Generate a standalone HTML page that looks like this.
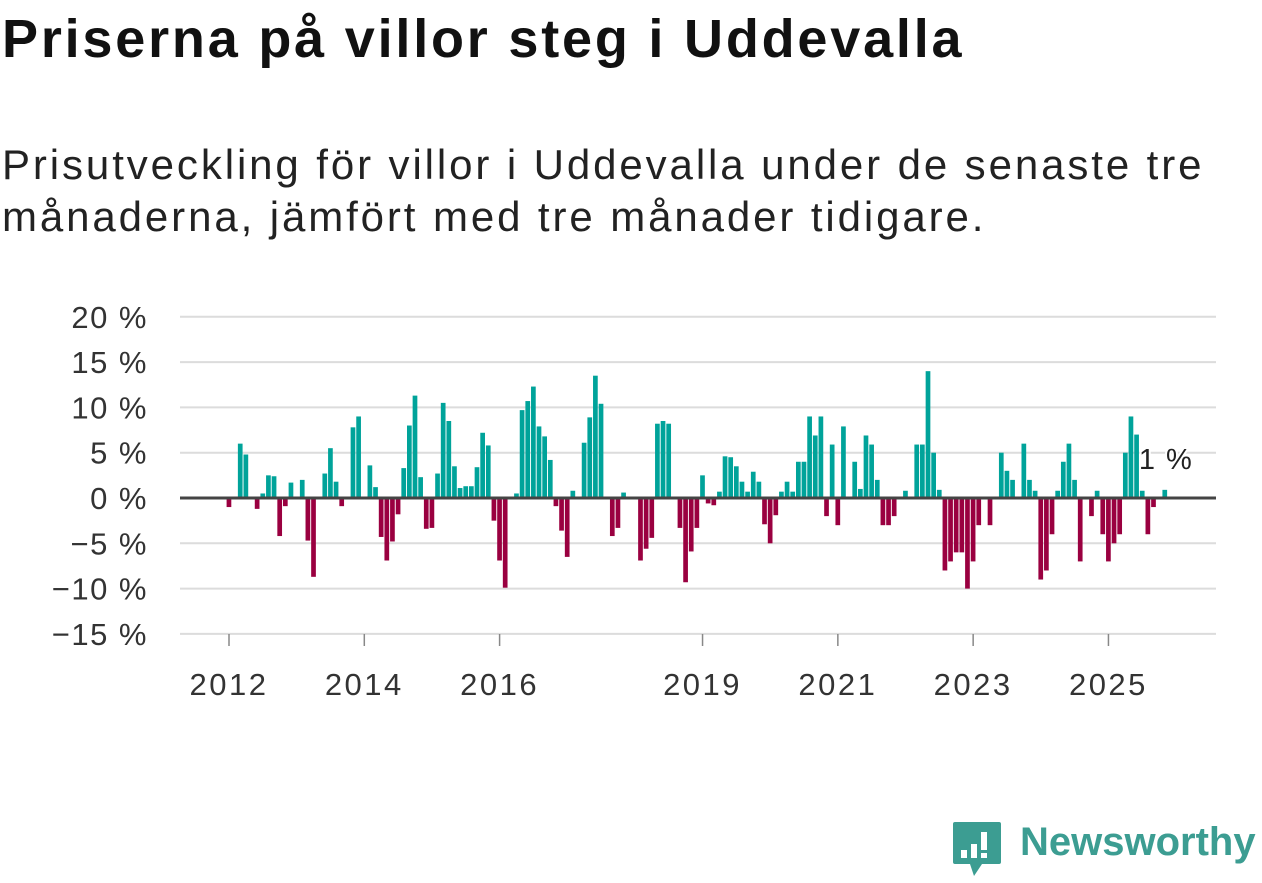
<!DOCTYPE html>
<html><head><meta charset="utf-8"><style>
body{margin:0;background:#fff;width:1262px;height:879px;overflow:hidden;font-family:"Liberation Sans",sans-serif;}
h1{position:absolute;left:2px;top:8px;margin:0;font-size:54px;font-weight:bold;color:#111;letter-spacing:2.8px;white-space:nowrap}
.sub{position:absolute;left:2px;top:139px;margin:0;font-size:42px;line-height:52px;color:#222;letter-spacing:2.9px;white-space:nowrap}
</style></head><body>
<h1>Priserna på villor steg i Uddevalla</h1>
<p class="sub">Prisutveckling för villor i Uddevalla under de senaste tre<br>månaderna, jämfört med tre månader tidigare.</p>
<svg id="chart" width="1262" height="879" style="position:absolute;left:0;top:0"></svg>
<div style="position:absolute;left:952px;top:820px;">
<svg width="50" height="58" viewBox="0 0 50 58"><path d="M3 2h44a2 2 0 0 1 2 2v38a2 2 0 0 1-2 2H30l-8 12-4-12H3a2 2 0 0 1-2-2V4a2 2 0 0 1 2-2z" fill="#3c9d92"/><rect x="9" y="30" width="6" height="8" fill="#fff"/><rect x="19" y="24" width="6" height="14" fill="#fff"/><rect x="29" y="12" width="6" height="18" fill="#fff"/><rect x="29" y="33" width="6" height="5" fill="#fff"/></svg>
<span style="position:absolute;left:68px;top:0px;font-size:40px;font-weight:bold;color:#3c9d92;white-space:nowrap">Newsworthy</span>
</div>
<script>
const yTicks=[20,15,10,5,0,-5,-10,-15];
const yTickLabels=["20 %","15 %","10 %","5 %","0 %","−5 %","−10 %","−15 %"];
const xTickYears=[2012,2014,2016,2019,2021,2023,2025];
const startYear=2012;
const values=[-1,0,6,4.8,0,-1.2,0.5,2.5,2.4,-4.2,-0.9,1.7,0,2.0,-4.7,-8.7,0,2.7,5.5,1.8,-0.9,0,7.8,9.0,0,3.6,1.2,-4.3,-6.9,-4.8,-1.8,3.3,8.0,11.3,2.3,-3.4,-3.3,2.7,10.5,8.5,3.5,1.1,1.3,1.3,3.4,7.2,5.8,-2.5,-6.9,-9.9,0,0.5,9.7,10.7,12.3,7.9,6.8,4.2,-0.9,-3.6,-6.5,0.8,0,6.1,8.9,13.5,10.4,0,-4.2,-3.3,0.6,0,0,-6.9,-5.6,-4.4,8.2,8.5,8.2,0,-3.3,-9.3,-5.9,-3.3,2.5,-0.6,-0.8,0.7,4.6,4.5,3.5,1.8,0.7,2.9,1.8,-2.9,-5.0,-1.9,0.7,1.8,0.7,4.0,4.0,9.0,6.9,9.0,-2.0,5.9,-3.0,7.9,0,4.0,1.0,6.9,5.9,2.0,-3.0,-3.0,-2.0,0,0.8,0,5.9,5.9,14.0,5.0,0.9,-8.0,-7.0,-6.0,-6.0,-10.0,-7.0,-3.0,0,-3.0,0,5.0,3.0,2.0,0,6.0,2.0,0.8,-9.0,-8.0,-4.0,0.8,4.0,6.0,2.0,-7.0,0,-2.0,0.8,-4.0,-7.0,-5.0,-4.0,5.0,9.0,7.0,0.8,-4.0,-1.0,0,0.9];
const lastLabel="1 %";
const svg=document.getElementById('chart');const NS="http://www.w3.org/2000/svg";
const y=v=>498-v*9.06;
const x=m=>229+m*(135.3/24);
function mk(t,a,p){const e=document.createElementNS(NS,t);for(const k in a)e.setAttribute(k,a[k]);(p||svg).appendChild(e);return e;}
yTicks.forEach((t,i)=>{
 if(t!==0){const l=mk('line',{x1:180,x2:1216,y1:y(t),y2:y(t),stroke:'#dcdcdc','stroke-width':2});
 
 }
 const tx=mk('text',{x:148,y:y(t)+11,'text-anchor':'end','font-size':31,'letter-spacing':1.5,fill:'#333','font-family':'Liberation Sans, sans-serif'});
 tx.textContent=yTickLabels[i];
 
 
});
xTickYears.forEach(yr=>{
 const xx=x((yr-startYear)*12);
 const tk=mk('line',{x1:xx,x2:xx,y1:634,y2:646,stroke:'#888','stroke-width':1.5});
 
 
 const tx=mk('text',{x:xx,y:695,'text-anchor':'middle','font-size':31,'letter-spacing':2.5,fill:'#333','font-family':'Liberation Sans, sans-serif'});
 tx.textContent=yr;
 
 
});
values.forEach((v,i)=>{
 if(!v)return;
 const xx=x(i)-2.4;
 const r=mk('rect',{x:xx,width:4.7,y:Math.min(y(v),y(0)),height:Math.abs(y(v)-y(0)),fill:v>0?'#00a39a':'#9a0040'});
 
 
});
const z=mk('line',{x1:180,x2:1216,y1:y(0),y2:y(0),stroke:'#444','stroke-width':3});


const li=values.length-1;
const lb=mk('text',{x:x(li)-26,y:469,'font-size':29,'letter-spacing':1.5,fill:'#222','font-family':'Liberation Sans, sans-serif',stroke:'#fff','stroke-width':4,'paint-order':'stroke'});
lb.textContent=lastLabel;


</script>
</body></html>
